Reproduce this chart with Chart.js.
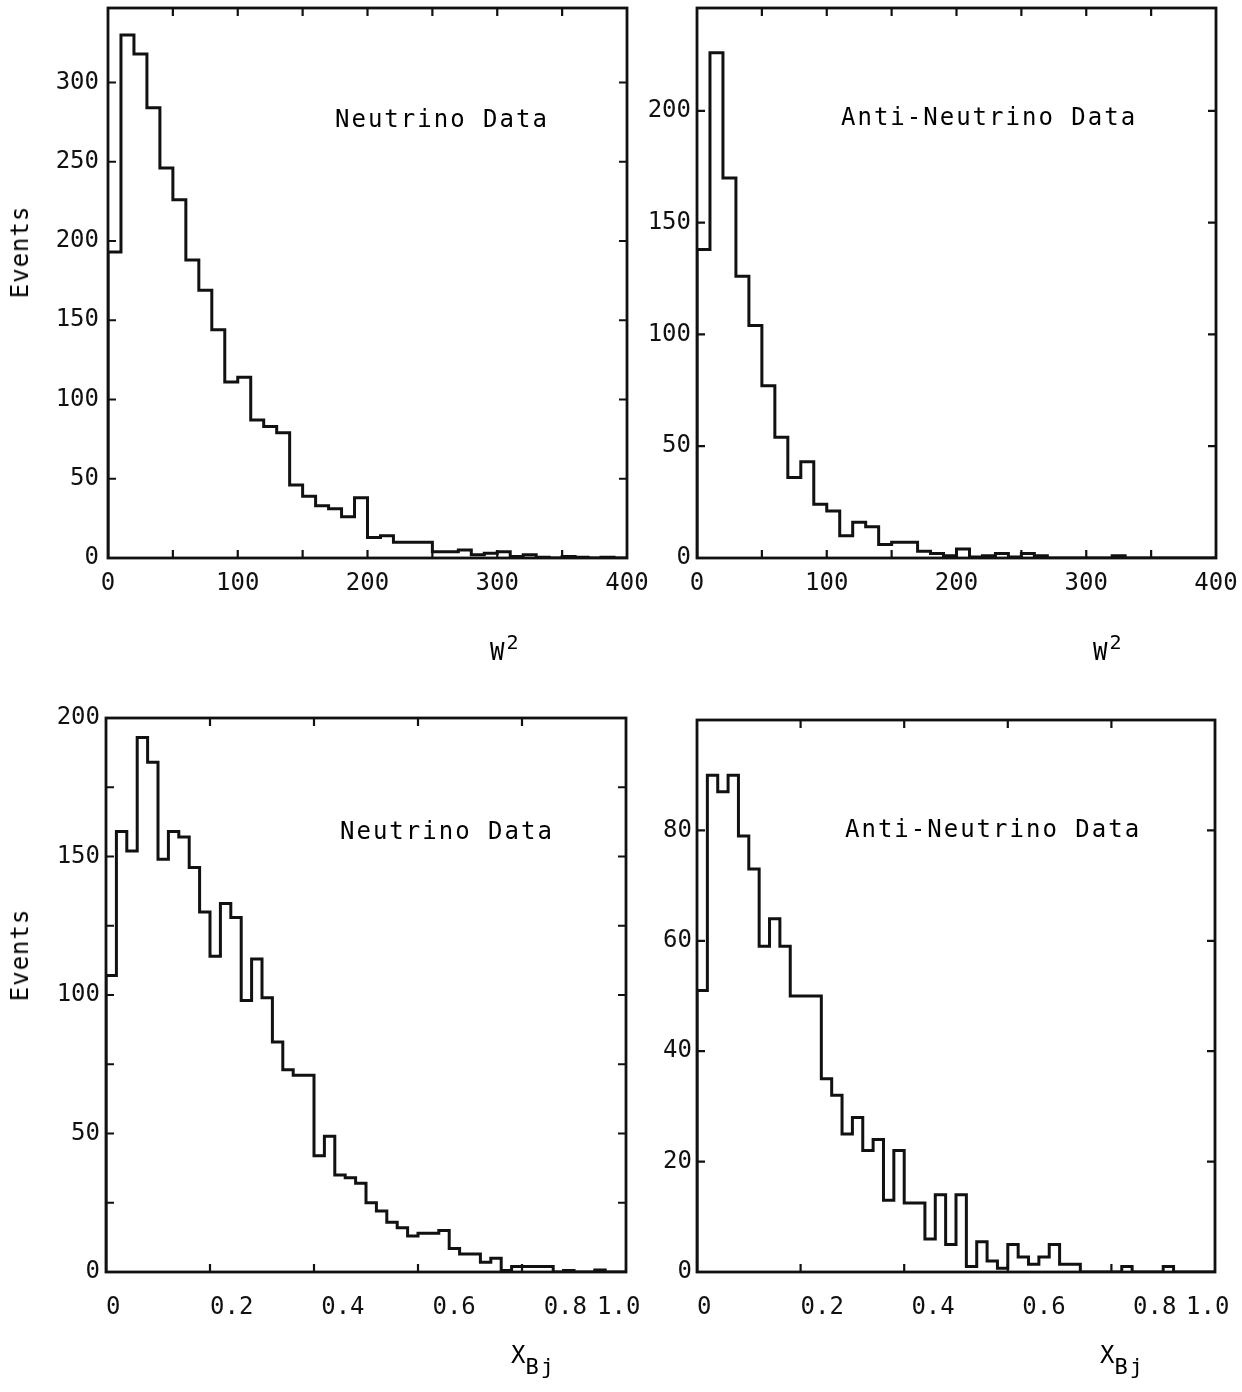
<!DOCTYPE html>
<html>
<head>
<meta charset="utf-8">
<script src="https://cdn.jsdelivr.net/npm/chart.js@4.4.1/dist/chart.umd.min.js"></script>
<style>
  body { margin: 0; background: #fff; width: 1242px; height: 1392px; position: relative; overflow: hidden; }
  canvas { position: absolute; }
  .t { position: absolute; font-family: "DejaVu Sans Mono", monospace; font-size: 24px; line-height: 24px; color: #000; white-space: nowrap; }
  .ann { letter-spacing: 2px; }
  .rot { transform: translate(-50%, -50%) rotate(-90deg); letter-spacing: 1px; }
  .t sup { font-size: 20px; position: relative; top: -10px; vertical-align: top; margin-left: 2px; }
  .t sub { font-size: 22px; position: relative; top: 12px; vertical-align: top; letter-spacing: 2px; }
</style>
</head>
<body>
<canvas id="nuW2" width="665" height="620" style="left:0;top:0"></canvas>
<canvas id="antiW2" width="642" height="620" style="left:600px;top:0"></canvas>
<canvas id="nuX" width="665" height="690" style="left:0;top:660px"></canvas>
<canvas id="antiX" width="642" height="690" style="left:600px;top:660px"></canvas>

<div class="t ann" style="left:335px;top:107px">Neutrino Data</div>
<div class="t ann" style="left:841px;top:105px">Anti-Neutrino Data</div>
<div class="t ann" style="left:340px;top:819px">Neutrino Data</div>
<div class="t ann" style="left:845px;top:817px">Anti-Neutrino Data</div>

<div class="t rot" style="left:20px;top:252px">Events</div>
<div class="t rot" style="left:20px;top:955px">Events</div>

<div class="t" style="left:490px;top:640px">W<sup>2</sup></div>
<div class="t" style="left:1093px;top:640px">W<sup>2</sup></div>
<div class="t" style="left:511px;top:1343px">X<sub>Bj</sub></div>
<div class="t" style="left:1100px;top:1343px">X<sub>Bj</sub></div>

<script>
// bin widths
const W2_BIN = 10;
const X_BIN = 0.02;

// W^2 histograms, bins of 10 from 0 to 400
const nuW2Counts = [193, 330, 318, 284, 246, 226, 188, 169, 144, 111,
  114, 87, 83, 79, 46, 39, 33, 31, 26, 38,
  13, 14, 10, 10, 10, 4, 4, 5, 2, 3,
  4, 1, 2, 0.5, 0, 1, 0.5, 0, 0.5, 0];
const antiW2Counts = [138, 226, 170, 126, 104, 77, 54, 36, 43, 24,
  21, 10, 16, 14, 6, 7, 7, 3, 2, 1,
  4, 0.5, 1, 2, 0.5, 2, 1, 0, 0, 0,
  0, 0, 1, 0, 0, 0, 0, 0, 0, 0];

// x_Bj histograms, bins of 0.02 from 0 to 1
const nuXCounts = [107, 159, 152, 193, 184, 149, 159, 157, 146, 130,
  114, 133, 128, 98, 113, 99, 83, 73, 71, 71,
  42, 49, 35, 34, 32, 25, 22, 18, 16, 13,
  14, 14, 15, 8.5, 6.5, 6.5, 3.5, 5, 0.5, 2,
  2, 2, 2, 0, 0.5, 0, 0, 0.7, 0, 0];
const antiXCounts = [51, 90, 87, 90, 79, 73, 59, 64, 59, 50,
  50, 50, 35, 32, 25, 28, 22, 24, 13, 22,
  12.5, 12.5, 6, 14, 5, 14, 1, 5.5, 2, 0.7,
  5, 2.7, 1.4, 2.7, 5, 1.4, 1.4, 0, 0, 0,
  0, 1, 0, 0, 0, 1, 0, 0, 0, 0];

// tick labels
const w2TickLabels = ['0', '100', '200', '300', '400'];
const xTickLabels = ['0', '0.2', '0.4', '0.6', '0.8', '1.0'];
// the x_Bj labels were typed at a fixed pitch, so they drift off their ticks;
// nudge each one by a number of (monospace) blanks, negative = trailing
const xLabelNudge = [1, 3, 4, 5, 6, -1];

const INK = '#111';
const tickFont = { family: 'DejaVu Sans Mono', size: 24 };

function stepPoints(counts, bin) {
  const pts = [{ x: 0, y: 0 }];
  counts.forEach((c, i) => pts.push({ x: +(i * bin).toFixed(4), y: c }));
  pts.push({ x: +(counts.length * bin).toFixed(4), y: counts[counts.length - 1] });
  return pts;
}

// box around the plot with inward tick marks on all four sides
const framePlugin = {
  id: 'frame',
  afterDraw(chart) {
    const { ctx, chartArea: a, scales } = chart;
    const len = 8;
    ctx.save();
    ctx.strokeStyle = INK;
    ctx.lineWidth = 2.8;
    ctx.strokeRect(a.left, a.top, a.right - a.left, a.bottom - a.top);
    ctx.lineWidth = 2.2;
    ctx.beginPath();
    scales.x.ticks.forEach((t) => {
      const px = scales.x.getPixelForValue(t.value);
      if (px < a.left + 2 || px > a.right - 2) return;
      ctx.moveTo(px, a.bottom); ctx.lineTo(px, a.bottom - len);
      ctx.moveTo(px, a.top); ctx.lineTo(px, a.top + len);
    });
    scales.y.ticks.forEach((t) => {
      const py = scales.y.getPixelForValue(t.value);
      if (py < a.top + 2 || py > a.bottom - 2) return;
      ctx.moveTo(a.left, py); ctx.lineTo(a.left + len, py);
      ctx.moveTo(a.right, py); ctx.lineTo(a.right - len, py);
    });
    ctx.stroke();
    ctx.restore();
  },
};

function fixedSize(prop, size) {
  return (scale) => {
    scale[prop] = size;
    scale.paddingTop = 0; scale.paddingBottom = 0;
    scale.paddingLeft = 0; scale.paddingRight = 0;
  };
}

function makeHist(canvasId, counts, bin, cfg) {
  const canvas = document.getElementById(canvasId);
  return new Chart(canvas.getContext('2d'), {
    type: 'line',
    data: {
      datasets: [{
        data: stepPoints(counts, bin),
        stepped: true,
        borderColor: INK,
        borderWidth: 3,
        borderJoinStyle: 'miter',
        pointRadius: 0,
        fill: false,
      }],
    },
    options: {
      responsive: false,
      animation: false,
      layout: { padding: cfg.padding },
      plugins: { legend: { display: false }, tooltip: { enabled: false } },
      scales: {
        x: {
          type: 'linear',
          min: 0,
          max: cfg.xMax,
          afterFit: fixedSize('height', cfg.xHeight),
          grid: { display: false, drawTicks: false },
          border: { display: false },
          ticks: {
            stepSize: cfg.xStep,
            padding: cfg.xPad,
            maxRotation: 0,
            autoSkip: false,
            color: INK,
            font: tickFont,
            callback: cfg.xLabel,
          },
        },
        y: {
          min: 0,
          max: cfg.yMax,
          afterFit: fixedSize('width', cfg.yWidth),
          grid: { display: false, drawTicks: false },
          border: { display: false },
          ticks: {
            stepSize: cfg.yStep,
            includeBounds: false,
            padding: cfg.yPad,
            autoSkip: false,
            color: INK,
            font: tickFont,
            callback: (v) => (v % cfg.yLabelEvery === 0 && v <= cfg.yLabelMax ? String(v) : ''),
          },
        },
      },
    },
    plugins: [framePlugin],
  });
}

const w2Label = (v) => (v % 100 === 0 ? w2TickLabels[v / 100] : '');
const xLabel = (v) => {
  const k = Math.round(v * 5);
  if (Math.abs(v * 5 - k) > 1e-6) return '';
  const n = xLabelNudge[k];
  return n >= 0 ? ' '.repeat(n) + xTickLabels[k] : xTickLabels[k] + ' '.repeat(-n);
};

makeHist('nuW2', nuW2Counts, W2_BIN, {
  padding: { left: 0, top: 8, right: 38, bottom: 0 },
  xMax: 400, xStep: 50, xLabel: w2Label, xHeight: 62, xPad: 11,
  yMax: 347, yStep: 50, yLabelEvery: 50, yLabelMax: 300, yWidth: 108, yPad: 9,
});
makeHist('antiW2', antiW2Counts, W2_BIN, {
  padding: { left: 0, top: 8, right: 26, bottom: 0 },
  xMax: 400, xStep: 50, xLabel: w2Label, xHeight: 62, xPad: 11,
  yMax: 246, yStep: 50, yLabelEvery: 50, yLabelMax: 200, yWidth: 97, yPad: 6,
});
makeHist('nuX', nuXCounts, X_BIN, {
  padding: { left: 0, top: 58, right: 39, bottom: 0 },
  xMax: 1, xStep: 0.2, xLabel: xLabel, xHeight: 78, xPad: 21,
  yMax: 200, yStep: 25, yLabelEvery: 50, yLabelMax: 200, yWidth: 106, yPad: 6,
});
makeHist('antiX', antiXCounts, X_BIN, {
  padding: { left: 0, top: 60, right: 27, bottom: 0 },
  xMax: 1, xStep: 0.2, xLabel: xLabel, xHeight: 78, xPad: 21,
  yMax: 100, yStep: 20, yLabelEvery: 20, yLabelMax: 80, yWidth: 97, yPad: 5,
});
</script>
</body>
</html>
